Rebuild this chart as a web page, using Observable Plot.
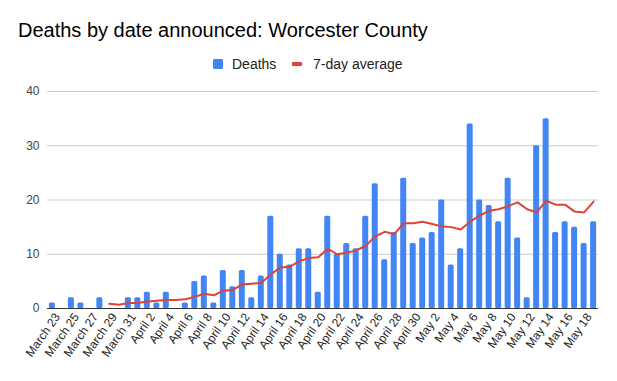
<!DOCTYPE html>
<html><head><meta charset="utf-8">
<script src="https://cdn.jsdelivr.net/npm/d3@7"></script>
<script src="https://cdn.jsdelivr.net/npm/@observablehq/plot@0.6"></script>
<style>
body{margin:0;background:#fff;font-family:Arial,"Liberation Sans",sans-serif;}
#wrap{position:relative;width:617px;height:381px;overflow:hidden;}
#title{position:absolute;left:18px;top:20.4px;font-size:20px;line-height:20px;color:#000;white-space:nowrap;}
.lg{position:absolute;font-size:14px;line-height:14px;color:#222;white-space:nowrap;}
#chart{position:absolute;left:0;top:80px;}
</style></head>
<body><div id="wrap">
<div id="title">Deaths by date announced: Worcester County</div>
<div class="lg" style="left:213px;top:59px;width:10px;height:10px;background:#4285f4;border-radius:1px;"></div>
<div class="lg" style="left:232px;top:56.7px;">Deaths</div>
<div class="lg" style="left:292px;top:62px;width:10px;height:4px;background:#db4437;border-radius:1px;"></div>
<div class="lg" style="left:313px;top:56.7px;">7-day average</div>
<div id="chart"></div>
</div>
<script>
const dates = ["March 23","March 24","March 25","March 26","March 27","March 28","March 29","March 30","March 31",
"April 1","April 2","April 3","April 4","April 5","April 6","April 7","April 8","April 9","April 10",
"April 11","April 12","April 13","April 14","April 15","April 16","April 17","April 18","April 19","April 20",
"April 21","April 22","April 23","April 24","April 25","April 26","April 27","April 28","April 29","April 30",
"May 1","May 2","May 3","May 4","May 5","May 6","May 7","May 8","May 9","May 10",
"May 11","May 12","May 13","May 14","May 15","May 16","May 17","May 18","May 19"];
const deaths = [1,0,2,1,0,2,0,0,2,
2,3,1,3,0,1,5,6,1,7,4,7,2,6,17,10,8,11,11,3,17,10,12,11,17,23,9,14,24,12,
13,14,20,8,11,34,20,19,16,24,13,2,30,35,14,16,15,12,16];
const average = [null,null,null,null,null,null,0.86,0.71,1.0,
1.0,1.29,1.43,1.57,1.57,1.71,2.14,2.71,2.43,3.29,3.43,4.43,4.57,4.71,6.29,7.57,7.71,8.71,9.29,9.43,11.0,10.0,10.29,10.71,11.57,13.29,14.14,13.71,15.71,15.71,
16.0,15.57,15.14,15.0,14.57,16.0,17.14,18.0,18.29,18.86,19.57,18.29,17.71,19.86,19.14,19.14,17.86,17.71,19.71];
const tickLabels = ["March 23","March 25","March 27","March 29","March 31","April 2","April 4","April 6","April 8","April 10",
"April 12","April 14","April 16","April 18","April 20","April 22","April 24","April 26","April 28","April 30",
"May 2","May 4","May 6","May 8","May 10","May 12","May 14","May 16","May 18"];
const yTicks = [0,10,20,30,40];

const rows = dates.map((d,i)=>({date:d, deaths:deaths[i], avg:average[i]}));
const lineRows = rows.filter(r=>r.avg!=null);

const chart = Plot.plot({
  width:617, height:301,
  marginLeft:47, marginRight:19, marginTop:11, marginBottom:73,
  style:{fontFamily:"Arial, 'Liberation Sans', sans-serif", fontSize:"12px", background:"#fff"},
  x:{type:"band", domain:dates, paddingInner:0.37, paddingOuter:0.2, round:false},
  y:{domain:[0,40]},
  marks:[
    Plot.gridY(yTicks,{stroke:"#cccccc", strokeOpacity:1}),
    Plot.barY(rows,{x:"date", y:"deaths", fill:"#4285f4", rx:1.5}),
    Plot.lineY(lineRows,{x:"date", y:"avg", stroke:"#db4437", strokeWidth:2}),
    Plot.ruleY([0],{stroke:"#333"}),
    Plot.axisY({ticks:yTicks, tickSize:0, tickPadding:8, label:null, fill:"#444", fontSize:12}),
    Plot.axisX({ticks:tickLabels, tickSize:0, tickPadding:4, tickRotate:-55, label:null, fill:"#222", fontSize:12, dx:5, dy:2})
  ]
});
document.getElementById("chart").appendChild(chart);
</script>
</body></html>
